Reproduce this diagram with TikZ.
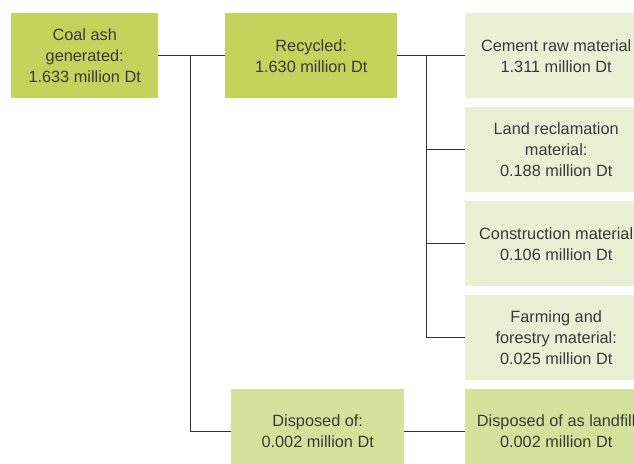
\documentclass[tikz,border=0pt]{standalone}
\usepackage{fontspec}
\setmainfont{Liberation Sans}
\definecolor{limeA}{HTML}{C2D45B}
\definecolor{limeB}{HTML}{D6E29B}
\definecolor{limeC}{HTML}{EBF0D5}
\definecolor{txt}{HTML}{3A3A3A}
\definecolor{ln}{HTML}{333333}
\tikzset{
  boxbase/.style={anchor=north west, inner sep=0pt, align=center, text=txt,
    font=\fontsize{16.3}{21}\selectfont},
  darkbox/.style={boxbase, fill=limeA},
  midbox/.style={boxbase, fill=limeB},
  palebox/.style={boxbase, fill=limeC},
  conn/.style={draw=ln, line width=1.1pt}
}
\begin{document}
\begin{tikzpicture}[x=1pt,y=-1pt]
\useasboundingbox (0,0) rectangle (634,463);
\clip (0,0) rectangle (634,463);
\node[darkbox, minimum width=147pt, minimum height=85pt] (coal) at (11,13) {Coal ash\\generated:\\1.633 million Dt};
\node[darkbox, minimum width=172pt, minimum height=85pt] (rec) at (225,13) {Recycled:\\1.630 million Dt};
\node[palebox, minimum width=182pt, minimum height=85pt] (cem) at (465,13) {Cement raw material\\1.311 million Dt};
\node[palebox, minimum width=182pt, minimum height=85pt] (land) at (465,107) {Land reclamation\\material:\\0.188 million Dt};
\node[palebox, minimum width=182pt, minimum height=85pt] (cons) at (465,201) {Construction material\\0.106 million Dt};
\node[palebox, minimum width=182pt, minimum height=85pt] (farm) at (465,295) {Farming and\\forestry material:\\0.025 million Dt};
\node[midbox, minimum width=173pt, minimum height=84pt] (disp) at (231,389) {Disposed of:\\0.002 million Dt};
\node[midbox, minimum width=182pt, minimum height=84pt] (fill) at (465,389) {Disposed of as landfill\\0.002 million Dt};
\coordinate (j1) at (190.5,55.5);
\coordinate (j2) at (426.5,55.5);
\draw[conn] (coal.east) -- (rec.west);
\draw[conn] (j1) |- (disp.west);
\draw[conn] (rec.east) -- (cem.west);
\draw[conn] (j2) |- (farm.west);
\draw[conn] (j2 |- land.west) -- (land.west);
\draw[conn] (j2 |- cons.west) -- (cons.west);
\draw[conn] (disp.east) -- (fill.west);
\end{tikzpicture}
\end{document}
